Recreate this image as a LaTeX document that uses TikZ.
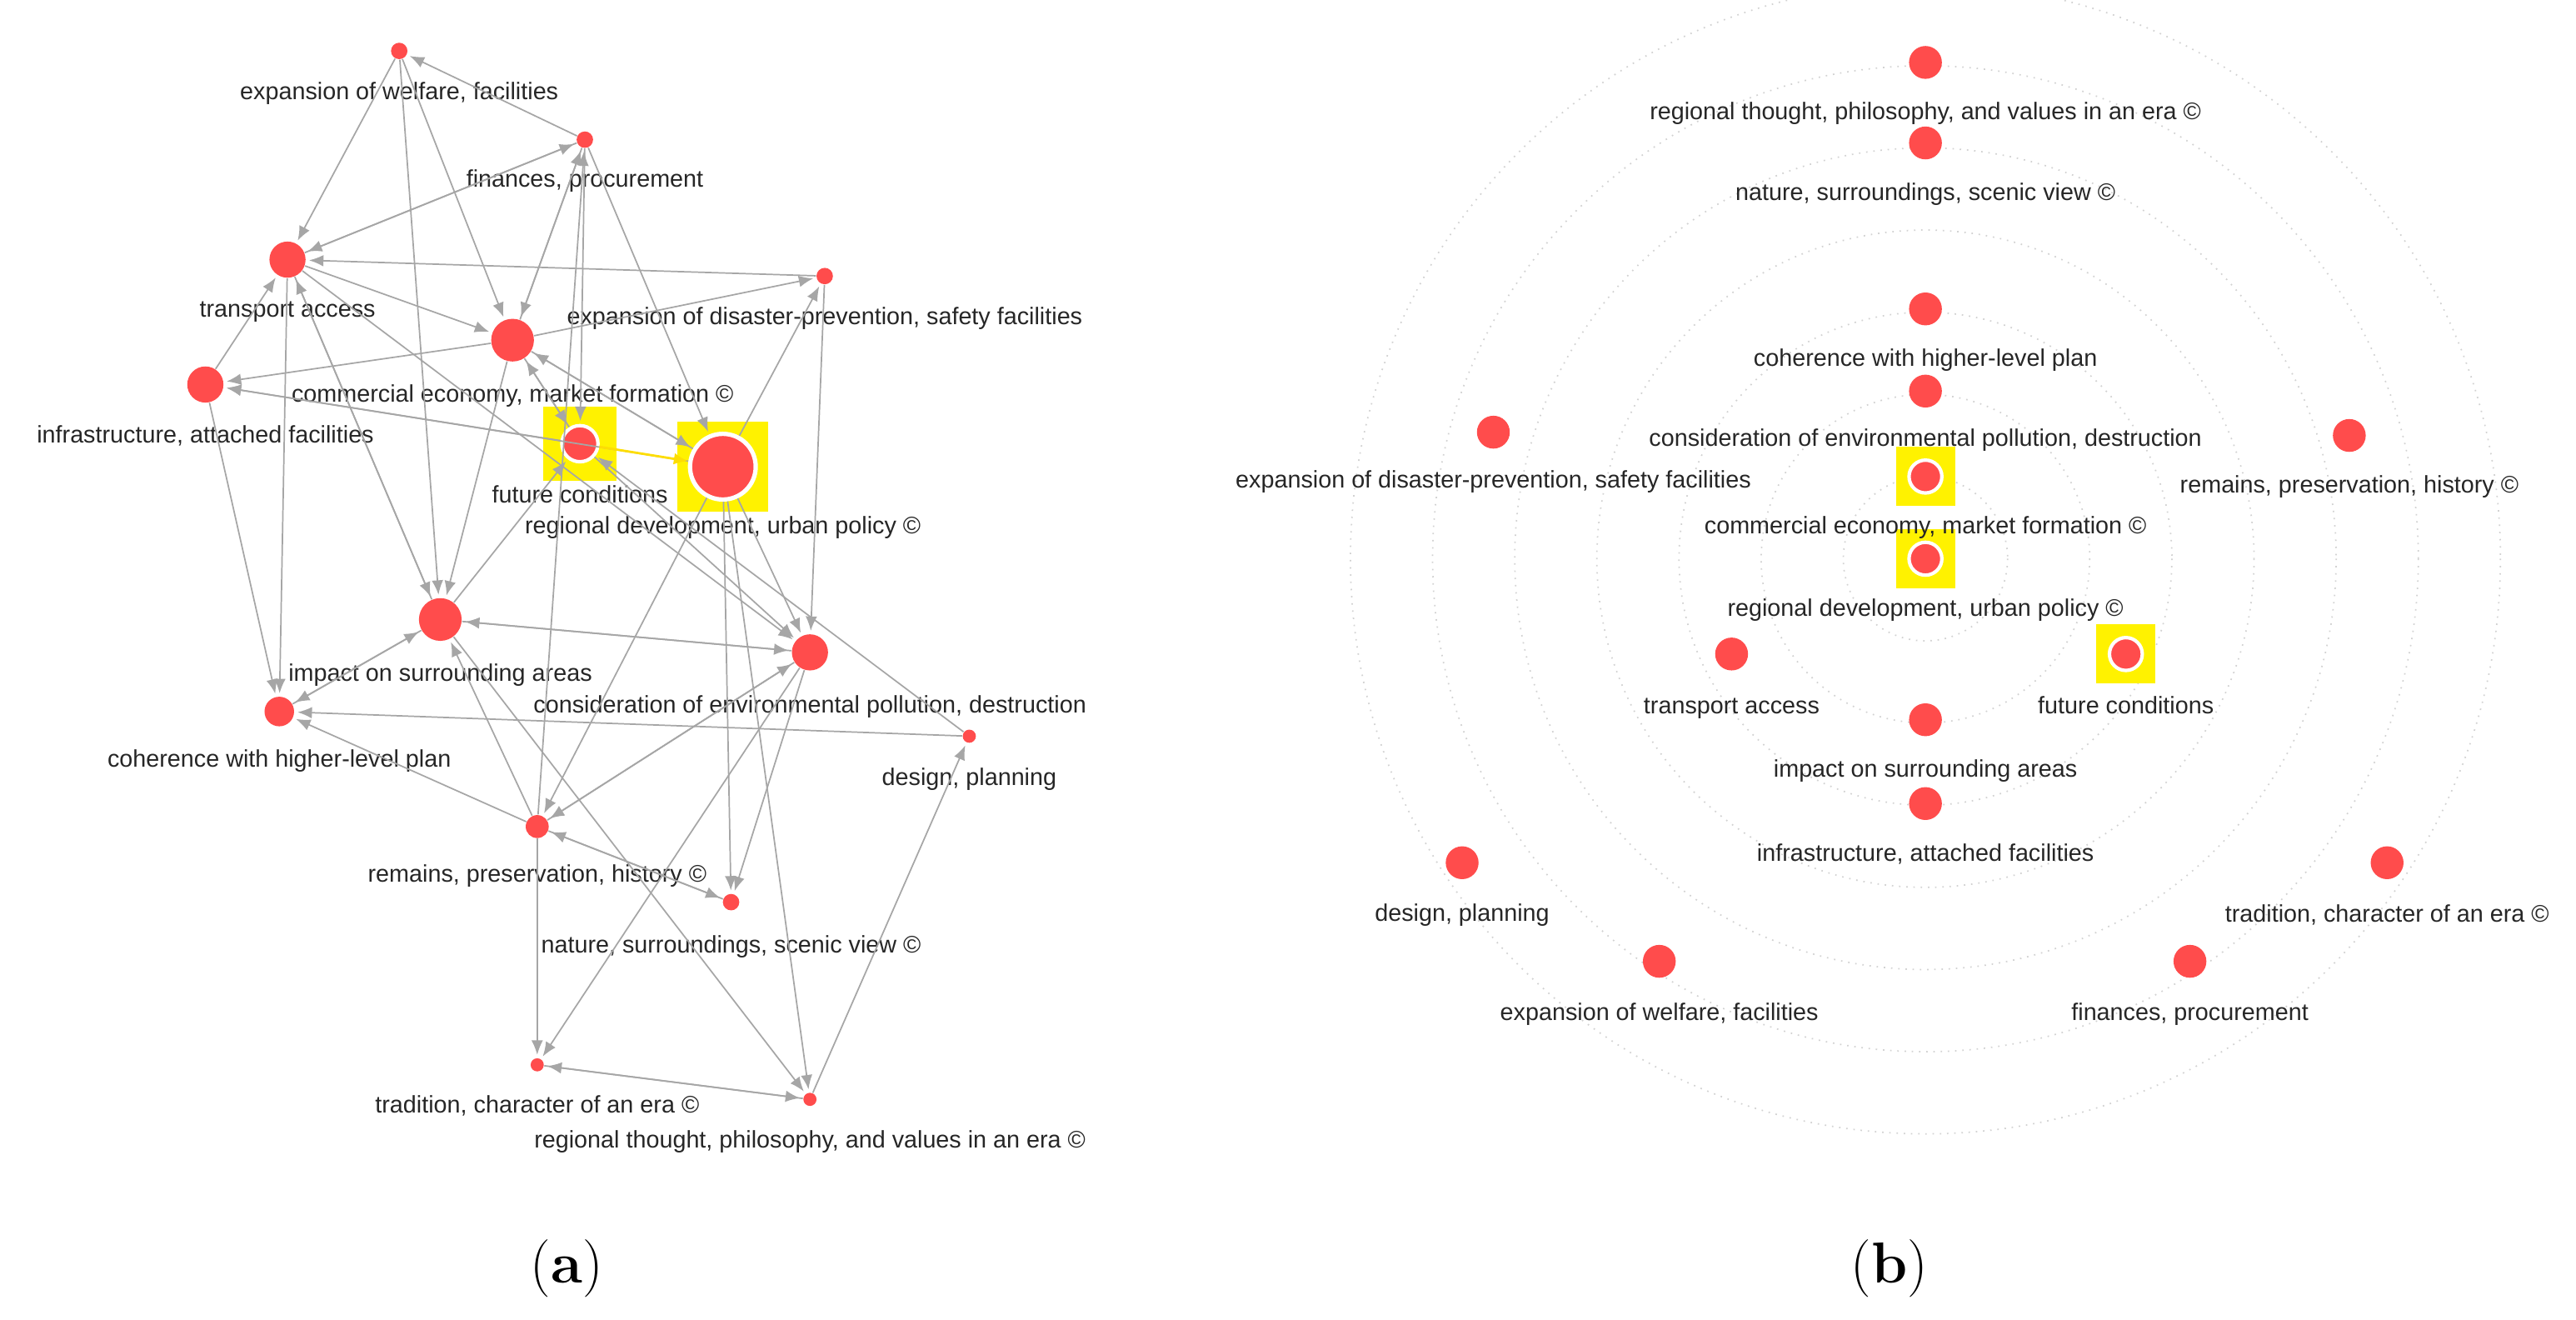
\documentclass[tikz,border=0pt]{standalone}
\usepackage{fontspec}
\setsansfont{Liberation Sans}
\usetikzlibrary{arrows.meta,calc,positioning}

\tikzset{
  kw/.style={circle,fill=red!70!white,draw=none,inner sep=0pt,minimum size=#1},
  hl/.style={fill=yellow,draw=none,inner sep=0pt,minimum size=#1},
  lbl/.style={font=\sffamily\fontsize{8.3}{9}\selectfont,inner sep=0pt,text=black!85},
  edge/.style={draw=gray!70,line width=0.5pt,-{Latex[length=5pt,width=4pt]},shorten >=1pt},
  ring/.style={draw=gray!35,dotted,line width=0.5pt}
}
\newcommand{\kwnode}[6]{% name, x, y, size, label, label y
  \node[kw=#4] (#1) at (#2,#3) {};
  \node[lbl] (#1-l) at (#2,#6) {#5};
}

\begin{document}
\begin{tikzpicture}[x=0.02cm,y=-0.02cm]
  \useasboundingbox (0,0) rectangle (1568,803);

  % (a) network
  \node[hl=0.9cm] (fut-h) at (353,270) {};
  \node[hl=1.1cm] (reg-h) at (440,284) {};
  \kwnode{wel}{243}{31}{0.2cm}{expansion of welfare, facilities}{57}
  \kwnode{fin}{356}{85}{0.2cm}{finances, procurement}{110}
  \kwnode{tra}{175}{158}{0.44cm}{transport access}{190}
  \kwnode{dis}{502}{168}{0.2cm}{expansion of disaster-prevention, safety facilities}{194}
  \kwnode{com}{312}{207}{0.52cm}{commercial economy, market formation \copyright}{241}
  \kwnode{inf}{125}{234}{0.44cm}{infrastructure, attached facilities}{265}
  \node[kw=0.44cm,draw=white,line width=1.2pt] (fut) at (353,270) {};
  \node[lbl] (fut-l) at (353,301) {future conditions};
  \node[kw=0.8cm,draw=white,line width=1.5pt] (reg) at (440,284) {};
  \node[lbl] (reg-l) at (440,321) {regional development, urban policy \copyright};
  \kwnode{imp}{268}{377}{0.52cm}{impact on surrounding areas}{411}
  \kwnode{con}{493}{397}{0.44cm}{consideration of environmental pollution, destruction}{430}
  \kwnode{coh}{170}{433}{0.36cm}{coherence with higher-level plan}{463}
  \kwnode{des}{590}{448}{0.16cm}{design, planning}{474}
  \kwnode{rem}{327}{503}{0.28cm}{remains, preservation, history \copyright}{533}
  \kwnode{nat}{445}{549}{0.2cm}{nature, surroundings, scenic view \copyright}{576}
  \kwnode{tad}{327}{648}{0.16cm}{tradition, character of an era \copyright}{673}
  \kwnode{tho}{493}{669}{0.16cm}{regional thought, philosophy, and values in an era \copyright}{695}

  \foreach \a/\b in {fin/wel,wel/tra,wel/com,tra/fin,fin/tra,fin/com,com/fin,dis/tra,com/dis,
      reg/dis,tra/com,com/inf,fut/inf,reg/inf,tra/coh,inf/coh,wel/imp,fin/fut,com/fut,
      fut/com,rem/fin,fin/reg,com/reg,reg/com,imp/fut,coh/imp,imp/coh,con/imp,imp/con,
      reg/con,dis/con,fut/con,tra/con,des/coh,con/rem,rem/con,rem/imp,rem/coh,reg/nat,
      con/nat,nat/rem,rem/nat,tho/des,tho/tad,tad/tho,rem/tad,con/tad,imp/tho,reg/tho,
      imp/tra,com/imp,inf/tra,tra/imp,des/fut,reg/rem}
    \draw[edge] (\a) -- (\b);
  \draw[-{Latex[length=5pt,width=4pt]},draw=yellow!80!orange,line width=0.8pt] (fut) -- (reg);

  % (b) radial layout
  \foreach \r in {50,100,...,350}
    \draw[ring] (1172,340) circle[radius=\r];
  \node[hl=0.72cm] (b-com-h) at (1172,290) {};
  \node[hl=0.72cm] (b-reg-h) at (1172,340) {};
  \node[hl=0.72cm] (b-fut-h) at (1294,398) {};
  \kwnode{b-tho}{1172}{38}{0.4cm}{regional thought, philosophy, and values in an era \copyright}{69}
  \kwnode{b-nat}{1172}{87}{0.4cm}{nature, surroundings, scenic view \copyright}{118}
  \kwnode{b-coh}{1172}{188}{0.4cm}{coherence with higher-level plan}{219}
  \kwnode{b-con}{1172}{238}{0.4cm}{consideration of environmental pollution, destruction}{268}
  \kwnode{b-com}{1172}{290}{0.4cm}{commercial economy, market formation \copyright}{321}
  \kwnode{b-reg}{1172}{340}{0.4cm}{regional development, urban policy \copyright}{371}
  \kwnode{b-fut}{1294}{398}{0.4cm}{future conditions}{429}
  \kwnode{b-tra}{1054}{398}{0.4cm}{transport access}{431}
  \kwnode{b-imp}{1172}{438}{0.4cm}{impact on surrounding areas}{469}
  \kwnode{b-inf}{1172}{489}{0.4cm}{infrastructure, attached facilities}{520}
  \kwnode{b-dis}{909}{263}{0.4cm}{expansion of disaster-prevention, safety facilities}{293}
  \kwnode{b-rem}{1430}{265}{0.4cm}{remains, preservation, history \copyright}{296}
  \kwnode{b-des}{890}{525}{0.4cm}{design, planning}{557}
  \kwnode{b-wel}{1010}{585}{0.4cm}{expansion of welfare, facilities}{617}
  \kwnode{b-fin}{1333}{585}{0.4cm}{finances, procurement}{617}
  \kwnode{b-tad}{1453}{525}{0.4cm}{tradition, character of an era \copyright}{557}
  \foreach \n in {b-com,b-reg,b-fut}
    \draw[white,line width=1.2pt] (\n) circle[radius=0.2cm];

  % captions
  \node[font=\fontsize{20}{24}\selectfont] (cap-a) at (345,772) {(\textbf{a})};
  \node[font=\fontsize{20}{24}\selectfont] (cap-b) at (1150,772) {(\textbf{b})};
\end{tikzpicture}
\end{document}
